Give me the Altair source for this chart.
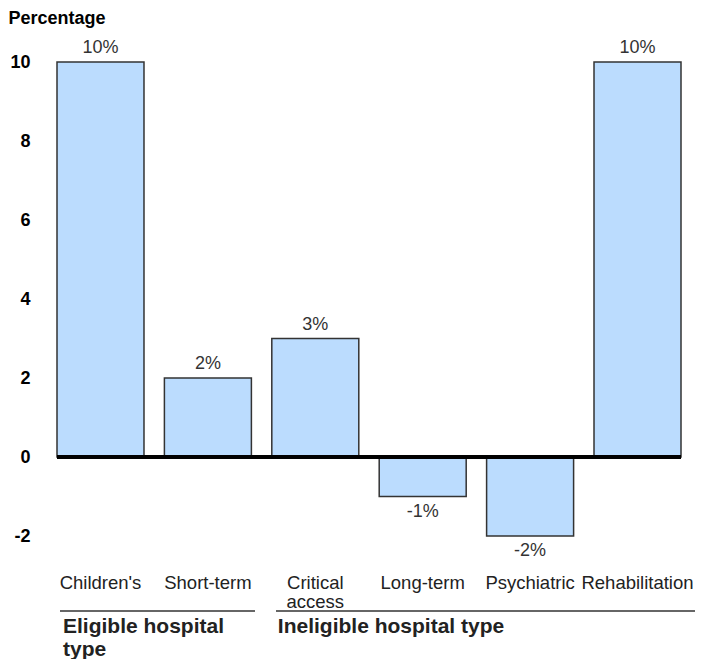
import altair as alt
import pandas as pd

categories = ["Children's", "Short-term", "Critical access", "Long-term", "Psychiatric", "Rehabilitation"]
values = [10, 2, 3, -1, -2, 10]
y_ticks = [-2, 0, 2, 4, 6, 8, 10]

group_labels = ["Eligible hospital\ntype", "Ineligible hospital type"]
group_first = ["Children's", "Critical access"]
group_start = [0, 2]
group_end = [2, 6]

FONT = "Liberation Sans"

df = pd.DataFrame({"category": categories, "value": values})
groups = pd.DataFrame({"label": group_labels, "first": group_first,
                       "start": group_start, "end": group_end})

xscale = alt.Scale(domain=categories, paddingInner=0.19, paddingOuter=0)
yscale = alt.Scale(domain=[-2, 10], nice=False, zero=False)

xaxis = alt.Axis(title=None, orient="bottom", domain=False, ticks=False,
                 labelAngle=0, labelPadding=37, labelFontSize=18.5,
                 labelFont=FONT, labelColor="#222222", labelBaseline="top",
                 labelExpr="split(datum.label, ' ')", labelLineHeight=19,
                 labelOverlap=False, labelLimit=300)

base = alt.Chart(df).transform_calculate(label="datum.value + '%'")

bars = base.mark_bar(color="#bbdcfe", stroke="#333333", strokeWidth=1.5).encode(
    x=alt.X("category:N", scale=xscale, sort=categories, axis=xaxis),
    y=alt.Y("value:Q", scale=yscale,
            axis=alt.Axis(values=y_ticks, domain=False, ticks=False, tickSize=0, grid=False,
                          labelFontWeight="bold", labelFontSize=18, labelFont=FONT,
                          labelColor="#000000", labelPadding=27,
                          labelExpr="'' + datum.value",
                          title="Percentage", titleAngle=0, titleX=-49, titleY=-39,
                          titleAlign="left", titleBaseline="alphabetic",
                          titleFontSize=18, titleFontWeight="bold", titleFont=FONT,
                          titleColor="#000000")),
)

pos_text = base.transform_filter("datum.value >= 0").mark_text(
    baseline="alphabetic", dy=-9, fontSize=18, font=FONT, color="#333333"
).encode(x=alt.X("category:N", scale=xscale, axis=xaxis),
         y=alt.Y("value:Q", scale=yscale), text="label:N")

neg_text = base.transform_filter("datum.value < 0").mark_text(
    baseline="alphabetic", dy=20, fontSize=18, font=FONT, color="#333333"
).encode(x=alt.X("category:N", scale=xscale, axis=xaxis),
         y=alt.Y("value:Q", scale=yscale), text="label:N")

zero = alt.Chart(pd.DataFrame({"zero": [0]})).mark_rule(
    color="black", strokeWidth=4
).encode(y=alt.Y("zero:Q", scale=yscale))

group_text = alt.Chart(groups).mark_text(
    align="left", baseline="alphabetic", lineBreak="\n", fontSize=21,
    fontWeight="bold", font=FONT, color="#222222", dx=6, lineHeight=23
).encode(x=alt.X("first:N", scale=xscale, bandPosition=0, axis=xaxis),
         y=alt.value(571), text="label:N")

main = alt.layer(bars, pos_text, neg_text, zero, group_text)

gscale = alt.Scale(domain=[0, 6], nice=False, zero=False)
rule_el = alt.Chart(groups).transform_filter("datum.start == 0").mark_rule(
    color="#333333", strokeWidth=1.3, xOffset=3, x2Offset=-10
).encode(x=alt.X("start:Q", scale=gscale, axis=None), x2="end:Q", y=alt.value(549))
rule_in = alt.Chart(groups).transform_filter("datum.start != 0").mark_rule(
    color="#333333", strokeWidth=1.3, xOffset=11, x2Offset=14
).encode(x=alt.X("start:Q", scale=gscale, axis=None), x2="end:Q", y=alt.value(549))
annot = alt.layer(rule_el, rule_in)

chart = alt.layer(main, annot).resolve_scale(x="independent").properties(
    width=624, height=474,
    padding={"left": 57, "top": 62, "right": 25, "bottom": 123},
    autosize=alt.AutoSizeParams(type="none"),
    background="white",
).configure_view(stroke=None)

chart.save("out.html", embed_options={"renderer": "svg", "actions": False})
